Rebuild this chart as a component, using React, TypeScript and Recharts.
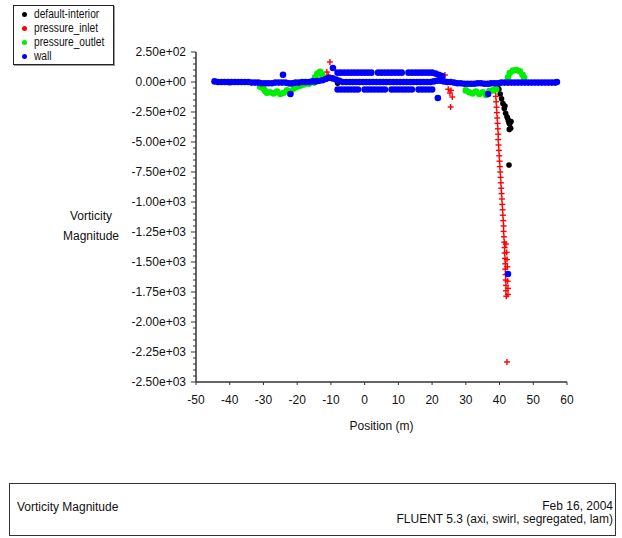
import React from "react";
import { ScatterChart, Scatter, XAxis, YAxis } from "recharts";

type Pt = [number, number];

// zones shown in the legend, in drawing order
const zoneNames = ["default-interior", "pressure_inlet", "pressure_outlet", "wall"];
const zoneColors = ["#000000", "#ff0000", "#00ee00", "#0000ff"];

const xTicks = [-50, -40, -30, -20, -10, 0, 10, 20, 30, 40, 50, 60];
const yMajorTicks = [250, 0, -250, -500, -750, -1000, -1250, -1500, -1750, -2000, -2250, -2500];
const yMinorTicks = [
  250, 200, 150, 100, 50, 0, -50, -100, -150, -200, -250, -300, -350, -400, -450, -500,
  -550, -600, -650, -700, -750, -800, -850, -900, -950, -1000, -1050, -1100, -1150, -1200,
  -1250, -1300, -1350, -1400, -1450, -1500, -1550, -1600, -1650, -1700, -1750, -1800,
  -1850, -1900, -1950, -2000, -2050, -2100, -2150, -2200, -2250, -2300, -2350, -2400,
  -2450, -2500,
];

const defaultInterior: Pt[] = [
  [-40, -5], [-22, -15], [-8, -10], [37, -15],
  [39.5, -25], [39.8, -60], [40.2, -100], [40.6, -140], [41, -180], [41.4, -220],
  [41.8, -260], [42.2, -290], [42.6, -320], [43, -350], [43.3, -385], [42.8, -340],
  [42.4, -300], [43.4, -330], [42.9, -395], [41.6, -200],
  [42.8, -692],
];

const pressureInlet: Pt[] = [
  [-10.3, 167], [-11.2, 83], [-10.8, 55],
  [23.8, 58], [24.8, -60], [25.3, -92], [26, -125], [25.6, -70], [25.5, -208],
  [38.7, -30], [38.8, -75], [38.9, -120], [39.0, -165], [39.1, -210], [39.2, -255],
  [39.3, -300], [39.4, -345], [39.5, -390], [39.6, -435], [39.6, -480], [39.7, -525],
  [39.8, -570], [39.9, -615], [40.0, -660], [40.1, -705], [40.2, -750], [40.3, -795],
  [40.4, -840], [40.5, -885], [40.6, -930], [40.7, -975], [40.8, -1020], [40.9, -1065],
  [41.0, -1110], [41.1, -1155], [41.2, -1200], [41.2, -1245], [41.3, -1290], [41.4, -1335],
  [41.5, -1380], [41.5, -1425], [41.6, -1470], [41.7, -1515], [41.7, -1560], [41.8, -1605],
  [41.8, -1650], [41.9, -1695], [41.9, -1740], [42.0, -1785],
  [41.9, -1350], [42.1, -1420], [42.2, -1480], [42.3, -1540], [42.4, -1600], [42.4, -1660],
  [42.5, -1720], [42.5, -1770],
  [42.2, -2333],
];

const pressureOutlet: Pt[] = [
  [-31, -40], [-30, -55], [-29.5, -75], [-29, -90], [-28, -85], [-27, -95], [-26, -80],
  [-25, -100], [-24, -90], [-23, -70], [-22, -80], [-21, -55], [-20, -40], [-19, -30],
  [-18, -20], [-16.5, -15], [-15, -5],
  [-14.7, 40], [-14, 70], [-13.2, 85], [-12.6, 60],
  [30, -70], [31, -85], [32, -95], [33, -80], [34, -100], [35, -85], [36, -108],
  [37, -75], [38, -70], [39, -60],
  [42.5, 40], [43, 75], [44, 95], [45, 100], [46, 90], [46.8, 60], [47.3, 35],
];

const wall: Pt[] = [
  // main run along the axis
  [-44.5, 5], [-43.5, 0], [-42.5, 0], [-41.5, 0], [-40.5, 0], [-39.5, 0], [-38.5, 0],
  [-37.5, 0], [-36.5, 0], [-35.5, 0], [-34.5, 0], [-33.5, -5], [-32.5, -5], [-31.5, -5],
  [-30.5, -10], [-29.5, -10], [-28.5, -10], [-27.5, -10], [-26.5, -5], [-25.5, -5],
  [-24.5, -5], [-23.5, -5], [-22.5, -10], [-21.5, -10], [-20.5, -5], [-19.5, -5],
  [-18.5, 0], [-17.5, 0], [-16.5, 0], [-15.5, 5], [-14.5, 5], [-13.5, 10], [-12.5, 15],
  [-11.5, 25], [-10.5, 35], [-9.5, 30], [-8.5, 20], [-7.5, 10], [-6.5, 0], [-5.5, 0],
  [-4.5, 0], [-3.5, 0], [-2.5, 0], [-1.5, 0], [-0.5, 0], [0.5, 0], [1.5, 0], [2.5, 0],
  [3.5, 0], [4.5, 0], [5.5, 0], [6.5, 0], [7.5, 0], [8.5, 0], [9.5, 0], [10.5, 0],
  [11.5, 0], [12.5, 0], [13.5, 0], [14.5, 0], [15.5, 0], [16.5, 0], [17.5, 0], [18.5, 0],
  [19.5, 0], [20.5, 5], [21.5, 10], [22.5, 10], [23.5, 5], [24.5, 0], [25.5, 0],
  [26.5, -5], [27.5, -10], [28.5, -10], [29.5, -15], [30.5, -15], [31.5, -15], [32.5, -15],
  [33.5, -10], [34.5, -10], [35.5, -15], [36.5, -15], [37.5, -10], [38.5, -10], [39.5, -10],
  [40.5, -5], [41.5, -5], [42.5, -5], [43.5, -5], [44.5, -5], [45.5, -5], [46.5, -5],
  [47.5, -5], [48.5, -5], [49.5, -5], [50.5, -5], [51.5, -5], [52.5, -5], [53.5, -5],
  [54.5, -5], [55.5, -5], [56.5, -5], [57, 0],
  // upper band
  [-8, 78], [-7, 78], [-6, 78], [-5, 78], [-4, 78], [-3, 78], [-2, 78], [-1, 78], [0, 78],
  [1, 78], [2, 78], [4, 78], [5, 78], [6, 78], [7, 78], [8, 78], [9, 78], [10, 78],
  [11, 78], [13, 78], [14, 78], [15, 78], [16, 78], [17, 78], [18, 78], [19, 78],
  [20, 78], [21, 70], [22, 60], [23, 50],
  // lower band
  [-8, -62], [-7, -62], [-6, -62], [-5, -62], [-4, -62], [-3, -62], [-2, -62],
  [0, -62], [1, -62], [2, -62], [3, -62], [4, -62], [5, -62], [6, -62],
  [8, -62], [9, -62], [10, -62], [11, -62], [12, -62], [13, -62], [14, -62],
  [16, -62], [17, -62], [18, -62], [19, -62], [20, -62],
  // stragglers
  [-24.2, 60], [-22, -100], [-9.4, 117], [21.7, -133], [36.6, -100], [42.5, -1600],
];

const toRows = (pts: Pt[]) => pts.map(([x, y]) => ({ x, y }));
const series = [defaultInterior, pressureInlet, pressureOutlet, wall];

const FONT = "'Liberation Sans', Arial, sans-serif";
const AXIS = "#333";

// 250 -> "2.50e+02"
const fmtSci = (v: number) =>
  v.toExponential(2).replace(/e([+-])(\d)$/, "e$10$2");

const YTick = (props: any) => {
  const { x, y, payload } = props;
  const v = payload.value;
  const major = yMajorTicks.includes(v);
  return (
    <g>
      <line x1={x - (major ? 5 : 3)} x2={x} y1={y} y2={y} stroke={AXIS} strokeWidth={1} />
      {major && (
        <text x={x - 10} y={y} dy={4} textAnchor="end" fontSize={12} fill="#111" fontFamily={FONT}>
          {fmtSci(v)}
        </text>
      )}
    </g>
  );
};

const dot = (color: string, r: number) => (p: any) =>
  <circle cx={p.cx} cy={p.cy} r={r} fill={color} />;

const cross = (color: string) => (p: any) => (
  <g stroke={color} strokeWidth={1.4}>
    <line x1={p.cx - 3} x2={p.cx + 3} y1={p.cy} y2={p.cy} />
    <line x1={p.cx} x2={p.cx} y1={p.cy - 3} y2={p.cy + 3} />
  </g>
);

export default function App() {
  return (
    <div
      style={{
        position: "absolute",
        left: 0,
        top: 0,
        width: 622,
        height: 538,
        background: "#fff",
        fontFamily: FONT,
        color: "#111",
      }}
    >
      {/* legend */}
      <div
        style={{
          position: "absolute",
          left: 13,
          top: 5,
          width: 99,
          height: 57,
          border: "1px solid #222",
          boxShadow: "1px 1px 0 #999",
          fontSize: 12,
          lineHeight: "14px",
          paddingTop: 1,
        }}
      >
        {zoneNames.map((name, i) => (
          <div key={name} style={{ display: "flex", alignItems: "center", whiteSpace: "nowrap" }}>
            <span
              style={{
                display: "inline-block",
                flexShrink: 0,
                width: 5,
                height: 5,
                borderRadius: 3,
                background: zoneColors[i],
                marginLeft: 8,
                marginRight: 7,
              }}
            />
            <span style={{ display: "inline-block", transform: "scaleX(0.85)", transformOrigin: "left center" }}>
              {name}
            </span>
          </div>
        ))}
      </div>

      {/* y axis title */}
      <div
        style={{
          position: "absolute",
          left: 50,
          top: 206,
          width: 82,
          textAlign: "center",
          fontSize: 12,
          lineHeight: "20px",
        }}
      >
        Vorticity
        <br />
        Magnitude
      </div>

      <ScatterChart width={622} height={470} margin={{ top: 52, right: 55, bottom: 38, left: 0 }}>
        <XAxis
          type="number"
          dataKey="x"
          domain={[-50, 60]}
          ticks={xTicks}
          interval={0}
          height={50}
          tickSize={3}
          tickMargin={10}
          stroke={AXIS}
          axisLine={{ stroke: AXIS, strokeWidth: 1.5 }}
          tick={{ fontSize: 12, fill: "#111", fontFamily: FONT }}
          label={{ value: "Position (m)", position: "insideBottom", offset: 2, fontSize: 12, fill: "#111", fontFamily: FONT }}
        />
        <YAxis
          type="number"
          dataKey="y"
          domain={[-2500, 250]}
          ticks={yMinorTicks}
          interval={0}
          width={196}
          tickSize={0}
          tickMargin={0}
          tickLine={false}
          axisLine={{ stroke: AXIS, strokeWidth: 1.5 }}
          tick={<YTick />}
        />
        {series.map((pts, i) => (
          <Scatter
            key={zoneNames[i]}
            name={zoneNames[i]}
            data={toRows(pts)}
            fill={zoneColors[i]}
            isAnimationActive={false}
            shape={i === 1 ? cross(zoneColors[i]) : dot(zoneColors[i], i === 0 ? 2.8 : 3.3)}
          />
        ))}
      </ScatterChart>

      {/* info box */}
      <div
        style={{
          position: "absolute",
          left: 9,
          top: 483,
          width: 605,
          height: 51,
          border: "1.5px solid #333",
          fontSize: 12,
        }}
      >
        <div style={{ position: "absolute", left: 7, top: 16 }}>Vorticity Magnitude</div>
        <div style={{ position: "absolute", right: 2, top: 16, textAlign: "right", lineHeight: "13px" }}>
          Feb 16, 2004
          <br />
          FLUENT 5.3 (axi, swirl, segregated, lam)
        </div>
      </div>
    </div>
  );
}
